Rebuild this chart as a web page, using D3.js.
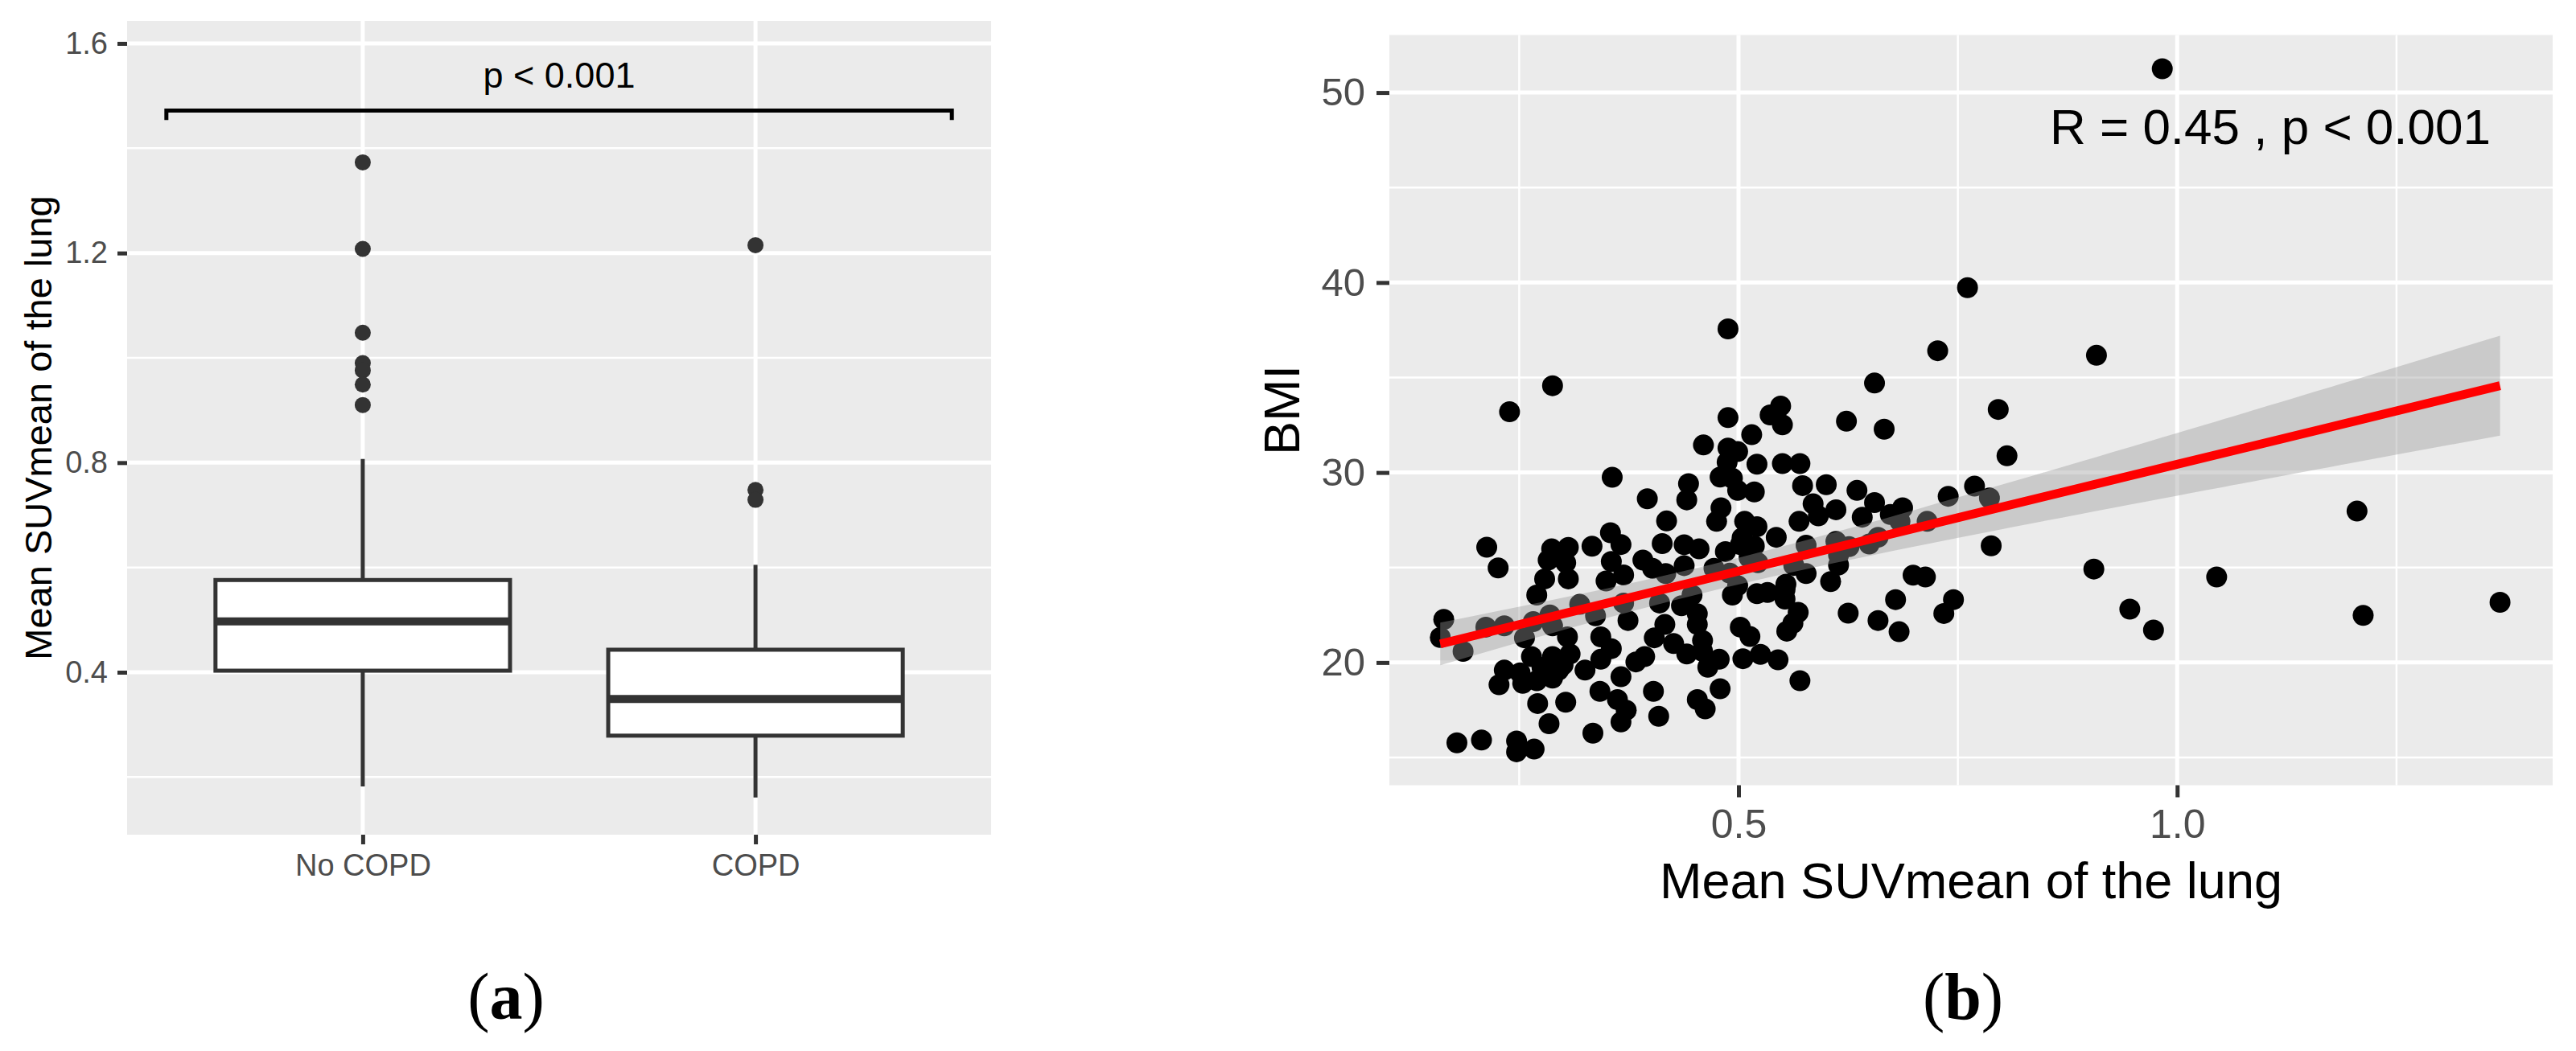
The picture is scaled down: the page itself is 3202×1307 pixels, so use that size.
<!DOCTYPE html>
<html>
<head>
<meta charset="utf-8">
<script src="https://cdn.jsdelivr.net/npm/d3@7"></script>
<style>
  body { margin: 0; background: #fff; }
  text { font-family: "Liberation Sans", Arial, sans-serif; }
</style>
</head>
<body>
<svg id="chart" width="3202" height="1307"></svg>
<script>
// ---- panel (a): boxplot summary ----
var groups = ["No COPD", "COPD"];
var q1 = [0.403, 0.279];
var med = [0.497, 0.349];
var q3 = [0.576, 0.443];
var whiskLo = [0.182, 0.161];
var whiskHi = [0.807, 0.605];
var outliers = [
  [1.373, 1.208, 1.048, 0.990, 0.976, 0.949, 0.910],
  [1.215, 0.748, 0.729]
];
var yTicksA = [0.4, 0.8, 1.2, 1.6];
var yMinorA = [0.2, 0.6, 1.0, 1.4];
var bracketY = 1.472, bracketTip = 1.454;
var pLabelA = "p < 0.001";

// ---- panel (b): scatter SUVmean vs BMI ----
var suv = [
  0.983,0.761,0.488,0.727,0.908,0.288,0.655,0.239,0.796,0.623,
  0.666,0.806,0.356,0.769,0.786,0.739,1.205,0.788,0.905,1.045,
  0.946,0.973,1.212,1.368,0.213,0.226,0.164,0.160,0.179,0.207,
  0.247,0.247,0.267,0.334,0.366,0.409,0.570,0.545,0.525,0.505,
  0.683,0.659,0.625,0.734,0.745,0.679,0.699,0.713,
  0.488,0.460,0.488,0.499,0.487,0.479,0.493,0.499,0.443,0.441,
  0.396,0.480,0.475,0.418,0.507,0.354,0.366,0.333,0.306,0.287,
  0.283,0.303,0.355,0.369,0.413,0.438,0.455,0.485,0.391,0.402,
  0.438,0.417,0.472,0.279,0.306,0.349,0.502,
  0.548,0.536,0.550,0.515,0.521,0.550,0.570,0.518,0.573,0.600,
  0.635,0.585,0.611,0.655,0.641,0.591,0.569,0.687,0.684,0.715,
  0.521,0.543,0.504,0.518,0.512,0.522,0.577,0.611,0.626,0.614,
  0.649,0.659,0.563,0.577,0.614,0.605,0.554,0.499,0.490,0.673,
  0.186,0.212,0.233,0.256,0.266,0.285,0.288,0.270,0.319,0.337,
  0.305,0.369,0.374,0.410,0.416,0.435,0.453,0.493,0.502,0.453,
  0.404,0.426,0.441,0.459,0.478,0.465,0.479,0.453,0.462,0.343,
  0.355,0.343,0.325,0.308,0.288,0.264,0.233,0.227,0.251,0.276,
  0.295,0.254,0.270,0.288,0.300,0.271,0.303,0.284,0.342,0.362,
  0.372,0.366,0.403,0.383,0.393,0.447,0.459,
  0.521,0.533,0.553,0.553,0.568,0.562,0.555,0.513
];
var bmi = [
  51.25,39.73,37.56,36.41,36.17,34.57,34.71,33.20,33.32,32.70,
  32.28,30.88,29.75,29.28,28.66,28.75,27.97,26.14,24.92,24.50,
  22.81,21.71,22.48,23.17,26.07,24.98,22.27,21.32,15.77,15.92,
  15.87,15.30,15.44,16.28,16.87,17.17,19.04,20.14,20.43,20.20,
  21.62,22.21,22.60,22.58,23.31,23.31,24.60,24.50,
  32.89,31.45,31.29,31.10,30.54,29.76,29.70,29.06,29.41,28.56,
  28.62,28.14,27.43,27.45,27.43,26.83,26.21,26.12,26.06,25.98,
  25.39,25.25,25.32,24.61,26.26,26.20,25.98,25.84,25.39,24.96,
  25.10,24.68,24.96,24.40,24.40,24.29,26.20,
  33.50,33.03,32.51,31.99,30.44,30.47,30.47,28.98,29.31,29.36,
  29.06,28.35,28.04,28.42,27.65,27.72,27.43,28.14,27.43,27.43,
  27.15,26.59,26.56,26.13,25.53,25.25,26.17,26.38,26.10,25.67,
  26.24,26.59,25.11,24.68,25.13,24.26,24.12,24.05,24.70,27.79,
  20.59,21.86,21.93,21.30,22.15,22.50,21.93,23.55,23.06,22.46,
  21.35,23.13,22.21,23.13,22.00,22.99,22.00,23.55,21.86,22.57,
  21.30,21.00,20.45,20.59,20.17,19.75,18.62,18.05,17.56,21.35,
  20.73,20.17,19.60,20.45,20.31,20.31,19.60,18.83,19.46,19.74,
  19.60,18.90,19.04,19.18,19.88,17.84,17.91,16.78,18.48,18.05,
  17.49,19.25,18.48,20.03,20.31,23.55,21.16,
  23.62,23.69,23.84,23.34,22.64,22.07,21.65,21.37
];
// fitted line and its confidence band, read at a few x positions
var fitX  = [0.16, 0.30, 0.47, 0.70, 1.00, 1.20, 1.368];
var fitY  = [20.98, 22.56, 24.47, 27.06, 30.43, 32.68, 34.57];
var bandLo = [19.86, 21.71, 23.77, 26.10, 28.78, 30.51, 31.94];
var bandHi = [22.10, 23.41, 25.17, 28.02, 32.08, 34.85, 37.20];
var xTicksB = [0.5, 1.0], xMinorB = [0.25, 0.75, 1.25];
var yTicksB = [20, 30, 40, 50], yMinorB = [15, 25, 35, 45];
var corLabel = "R = 0.45 , p < 0.001";

var svg = d3.select("#chart");
var bg = "#EBEBEB", axisCol = "#333333", tickTxt = "#4D4D4D";

function styleAxis(g, fs) {
  g.select(".domain").remove();
  g.selectAll(".tick line").attr("stroke", axisCol).attr("stroke-width", 5);
  g.selectAll(".tick text").attr("fill", tickTxt).style("font-size", fs + "px");
}

// ================= panel (a) =================
var A = {l: 158, r: 1232, t: 26, b: 1038};
var xA = d3.scalePoint().domain(groups).range([A.l, A.r]).padding(0.6);
var yA = d3.scaleLinear().domain([0.09, 1.643]).range([A.b, A.t]);
var stepA = xA.step();
var pa = svg.append("g");

pa.append("rect").attr("x", A.l).attr("y", A.t)
  .attr("width", A.r - A.l).attr("height", A.b - A.t).attr("fill", bg);
pa.selectAll("line.minor").data(yMinorA).enter().append("line")
  .attr("x1", A.l).attr("x2", A.r).attr("y1", d => yA(d)).attr("y2", d => yA(d))
  .attr("stroke", "#fff").attr("stroke-width", 2.5);
pa.selectAll("line.major").data(yTicksA).enter().append("line")
  .attr("x1", A.l).attr("x2", A.r).attr("y1", d => yA(d)).attr("y2", d => yA(d))
  .attr("stroke", "#fff").attr("stroke-width", 5);
pa.selectAll("line.vmajor").data(groups).enter().append("line")
  .attr("x1", d => xA(d)).attr("x2", d => xA(d)).attr("y1", A.t).attr("y2", A.b)
  .attr("stroke", "#fff").attr("stroke-width", 5);

var boxW = stepA * 0.75;
groups.forEach(function(g, i) {
  var cx = xA(g);
  pa.append("line").attr("x1", cx).attr("x2", cx)
    .attr("y1", yA(q3[i])).attr("y2", yA(whiskHi[i]))
    .attr("stroke", axisCol).attr("stroke-width", 5);
  pa.append("line").attr("x1", cx).attr("x2", cx)
    .attr("y1", yA(q1[i])).attr("y2", yA(whiskLo[i]))
    .attr("stroke", axisCol).attr("stroke-width", 5);
  pa.append("rect").attr("x", cx - boxW / 2).attr("y", yA(q3[i]))
    .attr("width", boxW).attr("height", yA(q1[i]) - yA(q3[i]))
    .attr("fill", "#fff").attr("stroke", axisCol).attr("stroke-width", 5);
  pa.append("line").attr("x1", cx - boxW / 2).attr("x2", cx + boxW / 2)
    .attr("y1", yA(med[i])).attr("y2", yA(med[i]))
    .attr("stroke", axisCol).attr("stroke-width", 10);
  pa.selectAll(null).data(outliers[i]).enter().append("circle")
    .attr("cx", cx).attr("cy", d => yA(d)).attr("r", 10).attr("fill", axisCol);
});

// significance bracket
var bx1 = xA(groups[0]) - stepA / 2, bx2 = xA(groups[1]) + stepA / 2;
pa.append("path")
  .attr("d", d3.line()([[bx1, yA(bracketTip)], [bx1, yA(bracketY)], [bx2, yA(bracketY)], [bx2, yA(bracketTip)]]))
  .attr("fill", "none").attr("stroke", "#000").attr("stroke-width", 5);
pa.append("text").attr("x", (bx1 + bx2) / 2).attr("y", 109)
  .attr("text-anchor", "middle").style("font-size", "45px").text(pLabelA);

var axAy = pa.append("g").attr("transform", "translate(" + A.l + ",0)")
  .call(d3.axisLeft(yA).tickValues(yTicksA).tickSize(12).tickPadding(12).tickFormat(d3.format(".1f")));
styleAxis(axAy, 38);
var axAx = pa.append("g").attr("transform", "translate(0," + A.b + ")")
  .call(d3.axisBottom(xA).tickSize(12).tickPadding(12));
styleAxis(axAx, 38);

pa.append("text").attr("transform", "translate(64," + (A.t + A.b) / 2 + ") rotate(-90)")
  .attr("text-anchor", "middle").style("font-size", "47px").text("Mean SUVmean of the lung");

// ================= panel (b) =================
var B = {l: 1727, r: 3173, t: 43.5, b: 976.5};
var xB = d3.scaleLinear().domain([0.102, 1.428]).range([B.l, B.r]);
var yB = d3.scaleLinear().domain([13.54, 53.03]).range([B.b, B.t]);
var pb = svg.append("g");

pb.append("rect").attr("x", B.l).attr("y", B.t)
  .attr("width", B.r - B.l).attr("height", B.b - B.t).attr("fill", bg);
pb.selectAll("line.hmin").data(yMinorB).enter().append("line")
  .attr("x1", B.l).attr("x2", B.r).attr("y1", d => yB(d)).attr("y2", d => yB(d))
  .attr("stroke", "#fff").attr("stroke-width", 2.5);
pb.selectAll("line.vmin").data(xMinorB).enter().append("line")
  .attr("x1", d => xB(d)).attr("x2", d => xB(d)).attr("y1", B.t).attr("y2", B.b)
  .attr("stroke", "#fff").attr("stroke-width", 2.5);
pb.selectAll("line.hmaj").data(yTicksB).enter().append("line")
  .attr("x1", B.l).attr("x2", B.r).attr("y1", d => yB(d)).attr("y2", d => yB(d))
  .attr("stroke", "#fff").attr("stroke-width", 5);
pb.selectAll("line.vmaj").data(xTicksB).enter().append("line")
  .attr("x1", d => xB(d)).attr("x2", d => xB(d)).attr("y1", B.t).attr("y2", B.b)
  .attr("stroke", "#fff").attr("stroke-width", 5);

pb.selectAll("circle").data(suv).enter().append("circle")
  .attr("cx", d => xB(d)).attr("cy", (d, i) => yB(bmi[i])).attr("r", 13).attr("fill", "#000");

var band = fitX.map((x, i) => [x, bandLo[i], bandHi[i]]);
pb.append("path")
  .attr("d", d3.area().x(d => xB(d[0])).y0(d => yB(d[1])).y1(d => yB(d[2])).curve(d3.curveNatural)(band))
  .attr("fill", "#999999").attr("fill-opacity", 0.4);
pb.append("path")
  .attr("d", d3.line().x(d => xB(d[0])).y(d => yB(d[1]))(fitX.map((x, i) => [x, fitY[i]])))
  .attr("fill", "none").attr("stroke", "#FF0000").attr("stroke-width", 11);

pb.append("text").attr("x", 2822).attr("y", 179).attr("text-anchor", "middle")
  .style("font-size", "62px").text(corLabel);

var axBy = pb.append("g").attr("transform", "translate(" + B.l + ",0)")
  .call(d3.axisLeft(yB).tickValues(yTicksB).tickSize(16).tickPadding(14));
styleAxis(axBy, 49);
var axBx = pb.append("g").attr("transform", "translate(0," + B.b + ")")
  .call(d3.axisBottom(xB).tickValues(xTicksB).tickSize(15).tickPadding(15).tickFormat(d3.format(".1f")));
styleAxis(axBx, 50);

pb.append("text").attr("x", (B.l + B.r) / 2).attr("y", 1117).attr("text-anchor", "middle")
  .style("font-size", "63px").text("Mean SUVmean of the lung");
pb.append("text").attr("transform", "translate(1615," + (B.t + B.b) / 2 + ") rotate(-90)")
  .attr("text-anchor", "middle").style("font-size", "63px").text("BMI");

// ---- captions ----
[["a", 629], ["b", 2440]].forEach(function(c) {
  var t = svg.append("text").attr("x", c[1]).attr("y", 1267).attr("text-anchor", "middle")
    .style("font-family", "'Liberation Serif', 'Times New Roman', serif").style("font-size", "82px");
  t.append("tspan").text("(");
  t.append("tspan").style("font-weight", "bold").text(c[0]);
  t.append("tspan").text(")");
});
</script>
</body>
</html>
